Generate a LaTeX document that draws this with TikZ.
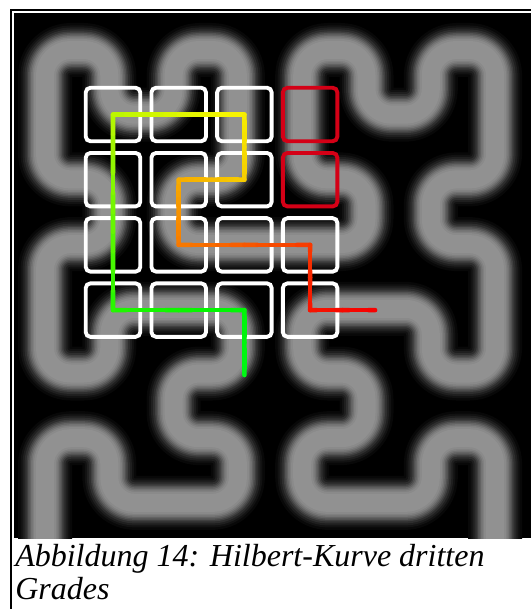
\documentclass[tikz,border=0pt]{standalone}
\usepackage{fontspec}
\setmainfont{Liberation Serif}
\usetikzlibrary{calc}

\definecolor{cellred}{RGB}{212,0,22}

\tikzset{
  cell/.style={draw=white, line width=2.9pt, rounded corners=3.5pt,
    minimum width=40.9pt, minimum height=40.1pt, inner sep=0pt},
  tracepiece/.style={line width=3.4pt, line cap=round, line join=round},
  frameline/.style={line width=1.7pt},
  captiontext/.style={anchor=base west, inner sep=0pt,
    font=\itshape\fontsize{24}{26}\selectfont}
}

% order-3 Hilbert curve, cells as column/row
\def\hilbertpts{0/7,0/6,1/6,1/7,2/7,3/7,3/6,2/6,2/5,3/5,3/4,2/4,1/4,1/5,0/5,0/4,
  0/3,1/3,1/2,0/2,0/1,0/0,1/0,1/1,2/1,2/0,3/0,3/1,3/2,2/2,2/3,3/3,
  4/3,5/3,5/2,4/2,4/1,4/0,5/0,5/1,6/1,6/0,7/0,7/1,7/2,6/2,6/3,7/3,
  7/4,7/5,6/5,6/4,5/4,4/4,4/5,5/5,5/6,4/6,4/7,5/7,6/7,6/6,7/6,7/7}

\begin{document}
\begin{tikzpicture}[x=0.75pt, y=-0.75pt]
  \useasboundingbox (0,0) rectangle (531,609);

  % frame
  \draw[frameline] (11,609) -- (11,10.2) -- (531,10.2);

  % blurred background curve
  \begin{scope}
    \clip (14,13) rectangle (531,538);
    \fill[black] (14,13) rectangle (531,538);
    \foreach \w/\g in {54/3, 49/7, 45/12, 41/18, 37/25, 34/32, 31/39, 28/45, 25/50, 22/54, 18/57} {
      \draw[line width=\w*0.75pt, white!\g!black, rounded corners=19pt, line join=round]
        (45,560) \foreach \hx/\hy in \hilbertpts { -- ({45+64.3*\hx},{50+64.7*\hy}) } -- (495,560);
    }
  \end{scope}

  % grid of cells
  \foreach \i in {0,1,2}
    \foreach \j in {0,...,3}
      \node[cell] (sq-\i-\j) at ({113+65.7*\i},{114.5+65.2*\j}) {};
  \foreach \j/\col in {0/cellred, 1/cellred, 2/white, 3/white}
    \node[cell, draw=\col] (sq-3-\j) at ({113+65.7*3},{114.5+65.2*\j}) {};

  \coordinate (start) at ($(sq-2-3.center)+(0,65)$);
  \coordinate (finish) at ($(sq-3-3.center)+(65,0)$);

  % coloured trace, green to red
  \foreach \pa/\pb/\ha/\hb in {start/sq-2-3/125/122, sq-2-3/sq-0-3/122/112,
      sq-0-3/sq-0-0/112/75, sq-0-0/sq-2-0/75/58, sq-2-0/sq-2-1/58/50,
      sq-2-1/sq-1-1/50/42, sq-1-1/sq-1-2/42/30, sq-1-2/sq-3-2/30/14,
      sq-3-2/sq-3-3/14/5, sq-3-3/finish/5/0}
    \foreach \k in {1,...,10} {
      \pgfmathsetmacro\hue{\ha+(\hb-\ha)*(\k-0.5)/10}
      \definecolor{segcol}{Hsb}{\hue,1,0.97}
      \draw[tracepiece, segcol] ($(\pa.center)!{(\k-1)/10}!(\pb.center)$)
        -- ($(\pa.center)!{\k/10}!(\pb.center)$);
    }

  % caption
  \node[captiontext] (caption-a) at (15,566) {Abbildung 14: Hilbert-Kurve dritten};
  \node[captiontext] (caption-b) at (15,599) {Grades};
\end{tikzpicture}
\end{document}
